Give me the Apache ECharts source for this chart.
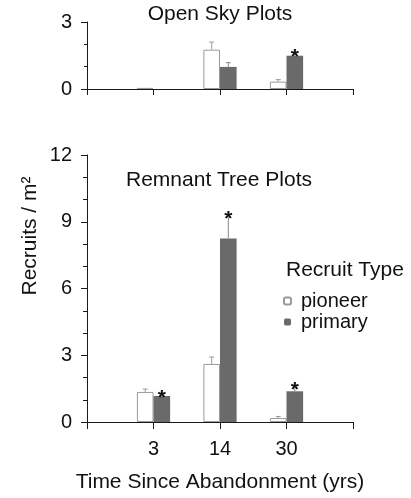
<!DOCTYPE html>
<html>
<head>
<meta charset="utf-8">
<script src="https://cdn.jsdelivr.net/npm/echarts@6/dist/echarts.min.js"></script>
<style>html,body{margin:0;padding:0;background:#fff}#c{width:411px;height:498px}</style>
</head>
<body>
<div id="c"></div>
<script>
// ---- data ----
const categories = ['3', '14', '30'];
const openPioneer = [0.05, 1.76, 0.33];
const openPioneerErr = [0, 0.34, 0.09];
const openPrimary = [0, 0.99, 1.49];
const openPrimaryErr = [0, 0.19, 0.07];
const openPrimarySig = [0, 0, 1];
const remPioneer = [1.35, 2.61, 0.18];
const remPioneerErr = [0.13, 0.31, 0.07];
const remPrimary = [1.17, 8.25, 1.38];
const remPrimaryErr = [0.05, 0.99, 0.2];
const remPrimarySig = [1, 1, 1];
const topTicks = [0, 3];
const bottomTicks = [0, 3, 6, 9, 12];

const FONT = '"Liberation Sans", Arial, Helvetica, sans-serif';
const PRIMARY = '#6a6a6a';
const PIONEER_BORDER = '#9a9a9a';
const AXIS = '#1a1a1a';

const axisCats = [''].concat(categories, [' ']);
const pad = arr => [null].concat(arr, [null]);

function errData(vals, errs, sig, k) {
  return vals.map((v, i) => [i + 1, v, errs[i], sig ? sig[i] : 0, k]);
}

function renderErr(params, api) {
  const ci = api.value(0), v = api.value(1), e = api.value(2), sig = api.value(3), k = api.value(4);
  const band = api.size([1, 0])[0];
  const base = api.coord([ci, v]);
  const x = base[0] + (k === 0 ? -1 : 1) * band * 0.125;
  const top = api.coord([ci, v + e])[1];
  const col = k === 0 ? PIONEER_BORDER : '#888';
  const children = [];
  if (e > 0) {
    children.push({type: 'line', shape: {x1: x, y1: base[1], x2: x, y2: top}, style: {stroke: col, lineWidth: 1}});
    children.push({type: 'line', shape: {x1: x - 2.5, y1: top, x2: x + 2.5, y2: top}, style: {stroke: col, lineWidth: 1}});
  }
  if (sig) {
    children.push({type: 'text', x: x, y: top + 3, style: {text: '*', fontSize: 21, fontWeight: 'bold', fontFamily: FONT, fill: '#111', textAlign: 'center', textVerticalAlign: 'middle'}});
  }
  return {type: 'group', children: children};
}

function yAxisCfg(gi, max, len, minLen) {
  return {
    type: 'value', gridIndex: gi, min: 0, max: max, interval: 3,
    axisLine: {show: true, lineStyle: {color: AXIS, width: 1}},
    axisTick: {show: true, length: len, lineStyle: {color: AXIS}},
    minorTick: {show: true, splitNumber: 3, length: minLen, lineStyle: {color: AXIS}},
    splitLine: {show: false},
    axisLabel: {fontSize: 20, fontFamily: FONT, color: '#111', margin: 15}
  };
}

function xAxisCfg(gi, showLabel, len) {
  return {
    type: 'category', gridIndex: gi, data: axisCats, boundaryGap: false,
    axisLine: {show: true, lineStyle: {color: AXIS, width: 1}},
    axisTick: {show: true, length: len, interval: 0, lineStyle: {color: AXIS}},
    axisLabel: {show: showLabel, interval: 0, fontSize: 20, fontFamily: FONT, color: '#111', margin: 17},
    z: 5
  };
}

const pioneerStyle = {color: '#fff', borderColor: PIONEER_BORDER, borderWidth: 1};
const primaryStyle = {color: PRIMARY, borderColor: PRIMARY, borderWidth: 0};

const option = {
  animation: false,
  backgroundColor: '#fff',
  grid: [
    {left: 87, right: 58, top: 22, height: 67},
    {left: 87, right: 58, top: 155, height: 267}
  ],
  xAxis: [xAxisCfg(0, false, 6), xAxisCfg(1, true, 7)],
  yAxis: [yAxisCfg(0, topTicks[topTicks.length - 1], 6, 3), yAxisCfg(1, bottomTicks[bottomTicks.length - 1], 6, 4)],
  legend: {
    orient: 'vertical', left: 283, top: 291, padding: 0,
    itemWidth: 7, itemHeight: 7, itemGap: 1,
    data: ['pioneer', 'primary'],
    textStyle: {fontSize: 20, fontFamily: FONT, color: '#111', lineHeight: 20, padding: [0, 0, 0, 5]}
  },
  graphic: [
    {type: 'text', x: 220, y: 14, style: {text: 'Open Sky Plots', fontSize: 21, fontFamily: FONT, fill: '#111', textAlign: 'center', textVerticalAlign: 'middle'}},
    {type: 'text', x: 219, y: 180, style: {text: 'Remnant Tree Plots', fontSize: 21, fontFamily: FONT, fill: '#111', textAlign: 'center', textVerticalAlign: 'middle'}},
    {type: 'text', x: 286, y: 270, style: {text: 'Recruit Type', fontSize: 21, fontFamily: FONT, fill: '#111', textAlign: 'left', textVerticalAlign: 'middle'}},
    {type: 'text', x: 220, y: 482, style: {text: 'Time Since Abandonment (yrs)', fontSize: 21, fontFamily: FONT, fill: '#111', textAlign: 'center', textVerticalAlign: 'middle'}},
    {type: 'text', x: 30, y: 236, rotation: Math.PI / 2, style: {text: 'Recruits / m\u00B2', fontSize: 21, fontFamily: FONT, fill: '#111', textAlign: 'center', textVerticalAlign: 'middle'}}
  ],
  series: [
    {name: 'pioneer', type: 'bar', xAxisIndex: 0, yAxisIndex: 0, data: pad(openPioneer), barGap: '0%', barCategoryGap: '50%', itemStyle: pioneerStyle},
    {name: 'primary', type: 'bar', xAxisIndex: 0, yAxisIndex: 0, data: pad(openPrimary), barGap: '0%', barCategoryGap: '50%', itemStyle: primaryStyle},
    {type: 'custom', xAxisIndex: 0, yAxisIndex: 0, renderItem: renderErr, z: 3,
     data: errData(openPioneer, openPioneerErr, null, 0).concat(errData(openPrimary, openPrimaryErr, openPrimarySig, 1))},
    {name: 'pioneer', type: 'bar', xAxisIndex: 1, yAxisIndex: 1, data: pad(remPioneer), barGap: '0%', barCategoryGap: '50%', itemStyle: pioneerStyle},
    {name: 'primary', type: 'bar', xAxisIndex: 1, yAxisIndex: 1, data: pad(remPrimary), barGap: '0%', barCategoryGap: '50%', itemStyle: primaryStyle},
    {type: 'custom', xAxisIndex: 1, yAxisIndex: 1, renderItem: renderErr, z: 3,
     data: errData(remPioneer, remPioneerErr, null, 0).concat(errData(remPrimary, remPrimaryErr, remPrimarySig, 1))}
  ]
};

const chart = echarts.init(document.getElementById('c'), null, {renderer: 'canvas'});
chart.setOption(option);
</script>
</body>
</html>
